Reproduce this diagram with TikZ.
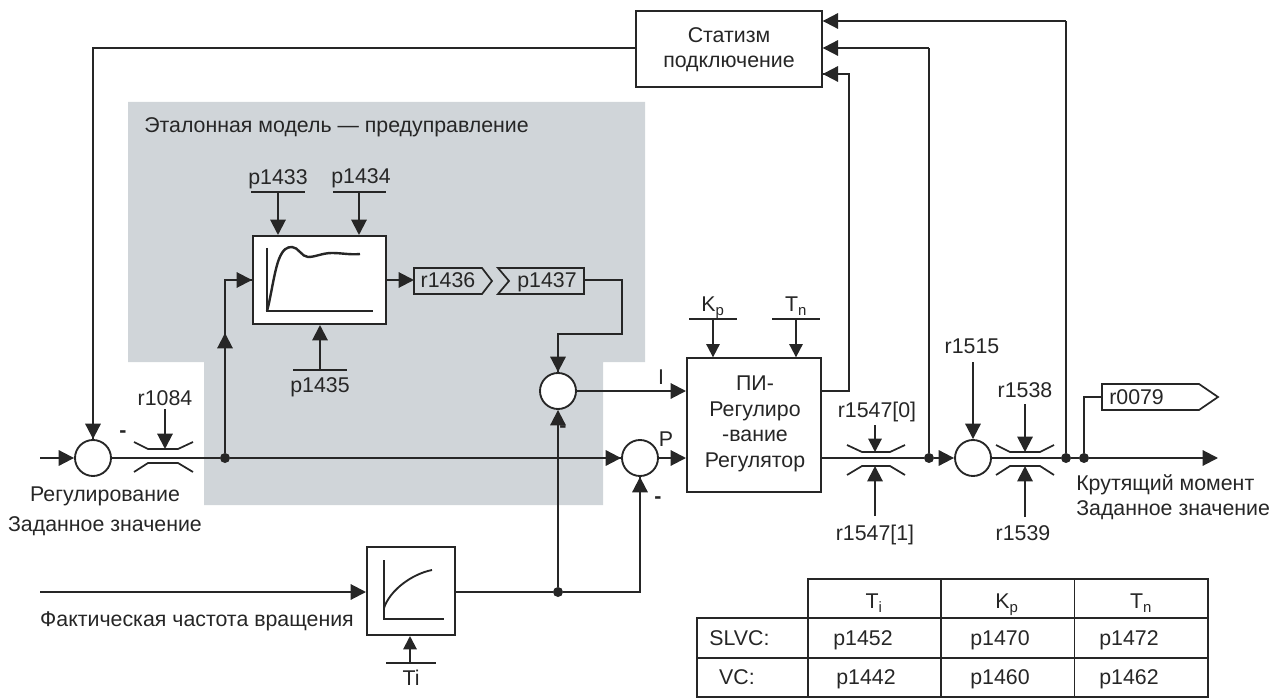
\documentclass[tikz,border=0pt]{standalone}
\usepackage{fontspec}
\setmainfont{Liberation Sans}
\usetikzlibrary{arrows.meta,calc}
\definecolor{panel}{HTML}{D0D5D9}
\definecolor{ink}{HTML}{262626}
\tikzset{
  wire/.style={draw=ink,line width=1.5pt},
  arr/.style={wire,-{Triangle[length=11.5pt,width=11.5pt]}},
  sarr/.style={wire,-{Triangle[length=10pt,width=10pt]}},
  bar/.style={draw=ink,line width=1.3pt},
  lbl/.style={inner sep=0pt,text=ink,font=\fontsize{16pt}{18pt}\selectfont,text height=11.5pt,text depth=3.4pt,anchor=center,yshift=-1.9pt},
  boxn/.style={draw=ink,line width=1.5pt,fill=white,inner sep=0pt},
  sumn/.style={circle,draw=ink,line width=1.4pt,fill=white,inner sep=0pt,minimum size=27pt},
  dot/.style={circle,fill=ink,inner sep=0pt,minimum size=7.5pt},
  choke/.style={draw=ink,line width=1.3pt},
  cell/.style={lbl},
}
\begin{document}
\begin{tikzpicture}[x=0.75pt,y=-0.75pt,line join=miter]
\useasboundingbox (0,0) rectangle (1280,698);
% shaded region
\fill[panel] (128,102) -- (645,102) -- (645,362) -- (603,362) -- (603,505) -- (204,505) -- (204,362) -- (128,362) -- cycle;
\node[lbl,anchor=west] (titlep) at (144,125) {Эталонная модель — предуправление};

% boxes
\node[boxn,minimum width=139pt,minimum height=57pt,align=center] (stat) at (729,49.5) {};
\node[lbl] (stat1) at (729,35) {Статизм};
\node[lbl] (stat2) at (729,60) {подключение};
\node[boxn,minimum width=99.75pt,minimum height=66pt] (ref) at (319.5,280) {};
\node[boxn,minimum width=66pt,minimum height=66pt] (flt) at (411,591) {};
\node[boxn,minimum width=100.5pt,minimum height=100pt] (pi) at (754,425) {};
\node[lbl] (pi1) at (755,383) {ПИ-};
\node[lbl] (pi2) at (755,409) {Регулиро};
\node[lbl] (pi3) at (755,434) {-вание};
\node[lbl] (pi4) at (755,460) {Регулятор};

% summing points
\node[sumn] (s1) at (93,458) {};
\node[sumn] (s2) at (558,391) {};
\node[sumn] (s3) at (640,458) {};
\node[sumn] (s4) at (973,458) {};

% junctions
\node[dot] (j1) at (225,458) {};
\node[dot] (j2) at (558,592) {};
\node[dot] (j3) at (929,458) {};
\node[dot] (j4) at (1066,458) {};
\node[dot] (j5) at (1084,458) {};

% free ends
\coordinate (inA) at (40,458);
\coordinate (inB) at (40,592);
\coordinate (outT) at (1218,458);
\coordinate (b1433a) at (251,192); \coordinate (b1433b) at (305,192); \coordinate (b1433) at (278,192);
\coordinate (b1434a) at (333,192); \coordinate (b1434b) at (386,192); \coordinate (b1434) at (359,192);
\coordinate (b1435a) at (293,370); \coordinate (b1435b) at (347,370); \coordinate (b1435) at (320,370);
\coordinate (bKa) at (689,319); \coordinate (bKb) at (737,319); \coordinate (bK) at (713,319);
\coordinate (bTa) at (772,319); \coordinate (bTb) at (820,319); \coordinate (bT) at (796,319);
\coordinate (bTia) at (386,663); \coordinate (bTib) at (436,663); \coordinate (bTi) at (410,663);

% signal tags
\node[lbl] (r1436) at (448,280) {r1436};
\node[lbl] (p1437) at (547,280) {p1437};
\node[lbl,anchor=west] (r0079) at (1109,397) {r0079};
\coordinate (r1436in) at (414,280);
\coordinate (p1437out) at (584,280);
\coordinate (r0079in) at (1102,397);
\draw[boxn,fill=none,line width=1.3pt] (414,268) -- (482,268) -- (492,281) -- (482,294) -- (414,294) -- cycle;
\draw[boxn,fill=none,line width=1.3pt] (498,268) -- (584,268) -- (584,294) -- (498,294) -- (509,281) -- cycle;
\draw[boxn,fill=none,line width=1.3pt] (1102,384) -- (1199,384) -- (1218,397) -- (1199,410) -- (1102,410) -- cycle;

% inner curves
\draw[bar] (267,248) -- (267,311) -- (373,311);
\draw[wire,line width=1.8pt] (267,311) .. controls (271,297) and (274,272) .. (279,259) .. controls (283,249) and (287,247) .. (292,247) .. controls (298,247) and (302,257) .. (308,257) .. controls (316,257) and (322,253) .. (332,253) .. controls (342,253) and (350,255) .. (360,254);
\draw[bar] (384,560) -- (384,619) -- (444,619);
\draw[wire,line width=1.4pt] (384,608) .. controls (390,590) and (412,574) .. (432,570);

% chokes
\draw[choke] (134,442) -- (148,449) -- (178,449) -- (193,442);
\draw[choke] (134,472) -- (148,463) -- (178,463) -- (193,472);
\draw[choke] (847,445) -- (862,452) -- (890,452) -- (905,445);
\draw[choke] (847,475) -- (862,466) -- (890,466) -- (905,475);
\draw[choke] (996,445) -- (1010,452) -- (1040,452) -- (1054,445);
\draw[choke] (996,475) -- (1010,466) -- (1040,466) -- (1054,475);

% parameter bars
\foreach \a/\b in {b1433a/b1433b,b1434a/b1434b,b1435a/b1435b,bKa/bKb,bTa/bTb,bTia/bTib}
  \draw[bar] (\a) -- (\b);

% labels
\node[lbl] (lp1433) at (278,177) {p1433};
\node[lbl] (lp1434) at (361,176) {p1434};
\node[lbl] (lp1435) at (320,385) {p1435};
\node[lbl] (lr1084) at (165,398) {r1084};
\node[lbl] (lKp) at (713,304) {K\textsubscript{p}};
\node[lbl] (lTn) at (796,304) {T\textsubscript{n}};
\node[lbl] (lTi) at (411,678) {Ti};
\node[lbl] (lI) at (661,377) {I};
\node[lbl] (lP) at (666,439) {P};
\node[lbl] (m1) at (123,430) {\textbf{-}};
\node[lbl] (m2) at (563,425) {\textbf{-}};
\node[lbl] (m3) at (658,496) {\textbf{-}};
\node[lbl] (lr15470) at (877,410) {r1547[0]};
\node[lbl] (lr15471) at (875,533) {r1547[1]};
\node[lbl] (lr1515) at (972,346) {r1515};
\node[lbl] (lr1538) at (1025,390) {r1538};
\node[lbl] (lr1539) at (1023,533) {r1539};
\node[lbl] (t1) at (105,494) {Регулирование};
\node[lbl] (t2) at (105,524) {Заданное значение};
\node[lbl] (t3) at (197,619) {Фактическая частота вращения};
\node[lbl,anchor=west] (t4) at (1076,483) {Крутящий момент};
\node[lbl,anchor=west] (t5) at (1076,508) {Заданное значение};

% arrow anchors for labelled inputs
\coordinate (a1084) at (165,409); \coordinate (a10) at (875,425); \coordinate (a11) at (875,516);
\coordinate (a1515) at (973,362); \coordinate (a1538) at (1025,404); \coordinate (a1539) at (1025,517);

% connectors
\draw[arr] (inA) -- (s1.west);
\draw[wire] (s1.east) -- (j1);
\draw[wire] (j1) -- (s3.west);
\draw[arr] ($(j1)!0.66!(s3.west)$) -- (s3.west);
\draw[arr] (s3.east) -- (pi.west |- s3);
\draw[wire] (stat.west |- 0,48) -| (s1.north);
\draw[arr] (93,420) -- (s1.north);
\draw[wire] (j1) -- (225,280) -- (ref.west |- 0,280);
\draw[arr] (225,400) -- (225,333);
\draw[arr] (225,280) -- (ref.west |- 0,280);
\draw[arr] (b1433) -- (b1433 |- ref.north);
\draw[arr] (b1434) -- (b1434 |- ref.north);
\draw[arr] (b1435) -- (b1435 |- ref.south);
\draw[arr] (ref.east |- 0,280) -- (r1436in);
\draw[wire] (p1437out) -- (622,280) -- (622,334) -- (558,334) -- (s2.north);
\draw[arr] (558,340) -- (s2.north);
\draw[arr] (s2.east) -- (pi.west |- s2);
\draw[arr] (inB) -- (flt.west |- inB);
\draw[wire] (flt.east |- j2) -- (j2);
\draw[wire] (j2) -| (s3.south);
\draw[arr] (640,530) -- (s3.south);
\draw[wire] (j2) -- (558,520);
\draw[arr] (558,520) -- (s2.south);
\draw[sarr] (bTi) -- (bTi |- flt.south);
\draw[sarr] (bK) -- (bK |- pi.north);
\draw[sarr] (bT) -- (bT |- pi.north);
\draw[wire] (pi.east |- s2) -- (849,391) -- (849,74) -- (stat.east |- 0,74);
\draw[arr] (849,74) -- (stat.east |- 0,74);
\draw[wire] (pi.east |- j3) -- (j3);
\draw[arr] (j3) -- (s4.west);
\draw[wire] (j3) -- (929,48);
\draw[arr] (929,48) -- (stat.east |- 0,48);
\draw[wire] (s4.east) -- (j4);
\draw[wire] (j4) -- (1066,21);
\draw[arr] (1066,21) -- (stat.east |- 0,21);
\draw[wire] (j4) -- (j5);
\draw[arr] (j5) -- (outT);
\draw[wire] (j5) -- (1084,397) -- (r0079in);
\draw[arr] (a1084) -- (165,449);
\draw[sarr] (a10) -- (875,452);
\draw[arr] (a11) -- (875,466);
\draw[arr] (a1515) -- (s4.north);
\draw[arr] (a1538) -- (1025,452);
\draw[arr] (a1539) -- (1025,466);

% table
\draw[wire,line width=1.3pt] (808,579) rectangle (1208,697);
\draw[wire,line width=1.3pt] (697,618) rectangle (1208,697);
\draw[wire,line width=1.3pt] (697,658) -- (1208,658);
\draw[wire,line width=1.3pt] (808,579) -- (808,697);
\draw[wire,line width=1.3pt] (941,579) -- (941,697);
\draw[wire,line width=1.3pt] (1074.5,579) -- (1074.5,697);
\node[cell] (h1) at (874,601) {T\textsubscript{i}};
\node[cell] (h2) at (1007,601) {K\textsubscript{p}};
\node[cell] (h3) at (1141,601) {T\textsubscript{n}};
\node[cell] (c10) at (739.5,638) {SLVC:};
\node[cell] (c11) at (863,638) {p1452};
\node[cell] (c12) at (1000,638) {p1470};
\node[cell] (c13) at (1129,638) {p1472};
\node[cell] (c20) at (737,677) {VC:};
\node[cell] (c21) at (866,677) {p1442};
\node[cell] (c22) at (1000,677) {p1460};
\node[cell] (c23) at (1129,677) {p1462};
\end{tikzpicture}
\end{document}
